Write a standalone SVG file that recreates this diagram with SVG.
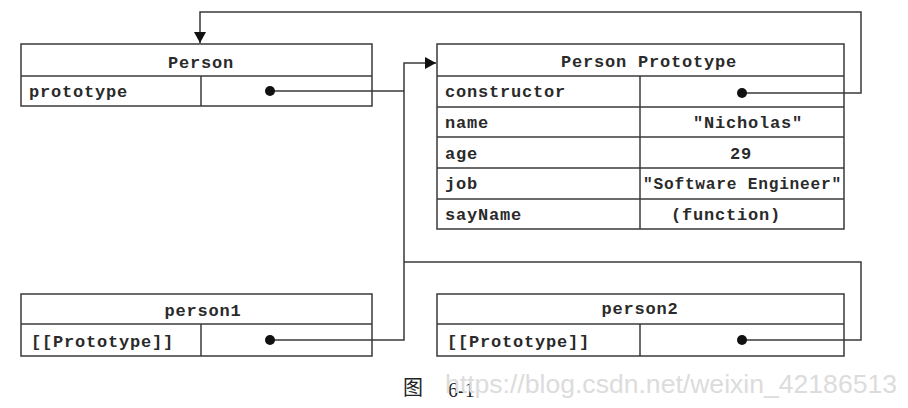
<svg xmlns="http://www.w3.org/2000/svg" width="908" height="408" viewBox="0 0 908 408">
<style>
.box{fill:#fff;stroke:#3a3a3a;stroke-width:1.5}
.ln{fill:none;stroke:#3a3a3a;stroke-width:1.5}
.t{font-family:"Liberation Mono","Courier New",monospace;font-weight:bold;font-size:17px;fill:#2a2a2a;letter-spacing:0.8px}
.c{text-anchor:middle}
.dot{fill:#111}
.wm{font-family:"Liberation Sans",Arial,sans-serif;font-size:25px;fill:#dcdcdc}
.cap{font-family:"Liberation Serif","Noto Sans CJK SC",serif;font-size:20px;fill:#222}
</style>
<defs>
<marker id="ah" markerWidth="12" markerHeight="12" refX="11" refY="6" orient="auto" markerUnits="userSpaceOnUse">
<path d="M0,0 L11,6 L0,12 Z" fill="#111"/>
</marker>
</defs>
<rect width="908" height="408" fill="#fff"/>
<g id="person">
<rect class="box" x="21" y="44" width="351" height="62"/>
<line class="ln" x1="21" y1="76" x2="372" y2="76"/>
<line class="ln" x1="201" y1="76" x2="201" y2="106"/>
<text class="t c" x="201" y="68">Person</text>
<text class="t" x="29" y="97">prototype</text>
</g>
<g id="person-prototype">
<rect class="box" x="437" y="44" width="407" height="185"/>
<line class="ln" x1="437" y1="76" x2="844" y2="76"/>
<line class="ln" x1="437" y1="107" x2="844" y2="107"/>
<line class="ln" x1="437" y1="137" x2="844" y2="137"/>
<line class="ln" x1="437" y1="168" x2="844" y2="168"/>
<line class="ln" x1="437" y1="199" x2="844" y2="199"/>
<line class="ln" x1="640" y1="76" x2="640" y2="229"/>
<text class="t c" x="649" y="67">Person Prototype</text>
<text class="t" x="445" y="97">constructor</text>
<text class="t" x="445" y="128">name</text>
<text class="t" x="445" y="159">age</text>
<text class="t" x="445" y="189">job</text>
<text class="t" x="445" y="220">sayName</text>
<text class="t c" x="748" y="128">"Nicholas"</text>
<text class="t c" x="741" y="159">29</text>
<text class="t" x="643" y="189" textLength="199" lengthAdjust="spacingAndGlyphs">"Software Engineer"</text>
<text class="t c" x="726" y="220">(function)</text>
</g>
<g id="person1">
<rect class="box" x="21" y="294" width="351" height="62"/>
<line class="ln" x1="21" y1="324" x2="372" y2="324"/>
<line class="ln" x1="201" y1="324" x2="201" y2="356"/>
<text class="t c" x="203" y="316">person1</text>
<text class="t" x="31" y="347">[[Prototype]]</text>
</g>
<g id="person2">
<rect class="box" x="437" y="294" width="407" height="62"/>
<line class="ln" x1="437" y1="324" x2="844" y2="324"/>
<line class="ln" x1="640" y1="324" x2="640" y2="356"/>
<text class="t c" x="640" y="314">person2</text>
<text class="t" x="447" y="347">[[Prototype]]</text>
</g>
<g id="connectors">
<polyline class="ln" points="742,93 861,93 861,12 200,12 200,43" marker-end="url(#ah)"/>
<polyline class="ln" points="270,91 404,91"/>
<polyline class="ln" points="270,340 404,340 404,63 436,63" marker-end="url(#ah)"/>
<polyline class="ln" points="742,340 861,340 861,262 404,262"/>
<circle class="dot" cx="270" cy="91" r="5"/>
<circle class="dot" cx="742" cy="93" r="5"/>
<circle class="dot" cx="270" cy="340" r="5"/>
<circle class="dot" cx="742" cy="340" r="5"/>
</g>
<g id="caption">
<text class="cap" x="403" y="395">图</text>
<text class="cap" x="448" y="397">6-1</text>
<text class="wm" x="445" y="393" textLength="452" lengthAdjust="spacingAndGlyphs">https://blog.csdn.net/weixin_42186513</text>
</g>
</svg>
